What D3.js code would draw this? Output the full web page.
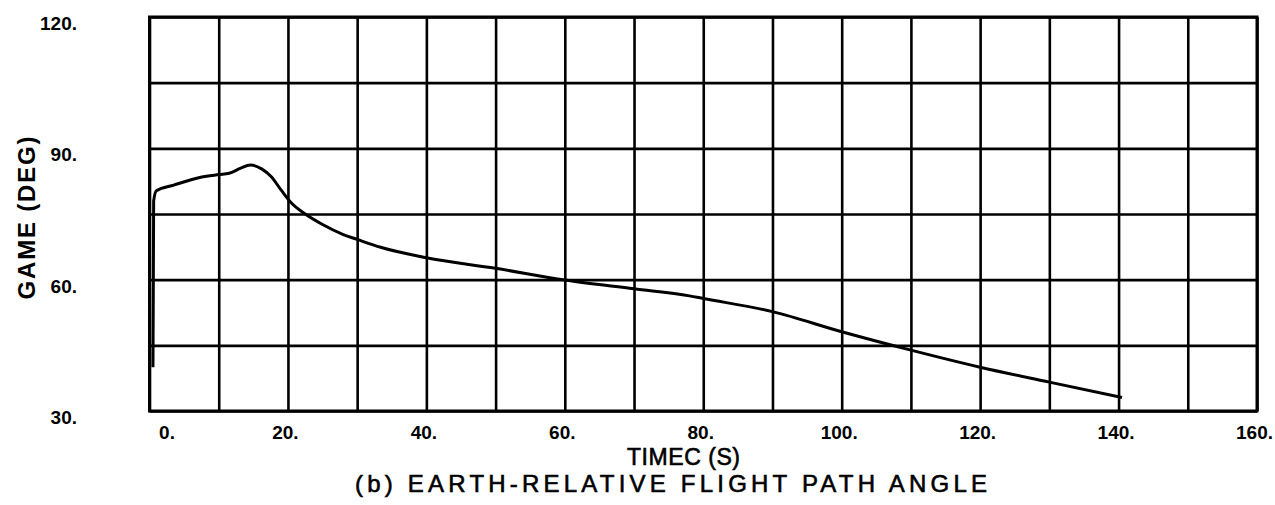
<!DOCTYPE html>
<html>
<head>
<meta charset="utf-8">
<script src="https://cdn.jsdelivr.net/npm/d3@7"></script>
<style>
  body { margin: 0; background: #fff; }
  svg { display: block; }
</style>
</head>
<body>
<svg id="chart" width="1275" height="505"></svg>
<script>
// datos
const timeS = [0.5, 0.6, 1.0, 3.5, 7.4, 10, 11.5, 13.1, 14.6, 16.2, 17.6, 19, 20.5, 22.5, 25, 28, 30, 33.4,
               40, 50, 60, 70, 78, 80, 90, 100, 110, 120, 130, 140.5];
const gammaDeg = [40, 78, 80.3, 81.6, 83.4, 84, 84.3, 85.4, 86.2, 85.3, 83.5, 80.5, 77.5, 75, 72.6, 70.3, 69.2, 67.4,
                  65, 62.6, 59.9, 57.9, 56.3, 55.7, 52.7, 48.1, 43.9, 40, 36.6, 33.1];

const xGridValues = [0, 10, 20, 30, 40, 50, 60, 70, 80, 90, 100, 110, 120, 130, 140, 150, 160];
const yGridValues = [30, 45, 60, 75, 90, 105, 120];
const xTickValues = [0, 20, 40, 60, 80, 100, 120, 140, 160];
const xTickLabels = ["0.", "20.", "40.", "60.", "80.", "100.", "120.", "140.", "160."];
const yTickValues = [30, 60, 90, 120];
const yTickLabels = ["30.", "60.", "90.", "120."];

const xTitle = "TIMEC (S)";
const yTitle = "GAME (DEG)";
const caption = "(b) EARTH-RELATIVE FLIGHT PATH ANGLE";

const svg = d3.select("#chart");
const plotLeft = 149.5, plotRight = 1257, plotTop = 17, plotBottom = 411;

const x = d3.scaleLinear().domain([0, 160]).range([plotLeft, plotRight]);
const y = d3.scaleLinear().domain([30, 120]).range([plotBottom, plotTop]);

// rejilla vertical
const gx = svg.append("g")
    .attr("transform", `translate(0,${plotBottom})`)
    .call(d3.axisBottom(x).tickValues(xGridValues).tickSize(-(plotBottom - plotTop)).tickFormat(""));
gx.select(".domain").remove();
gx.selectAll("line").attr("stroke", "#000").attr("stroke-width", 2.6);

// rejilla horizontal
const gy = svg.append("g")
    .attr("transform", `translate(${plotLeft},0)`)
    .call(d3.axisLeft(y).tickValues(yGridValues).tickSize(-(plotRight - plotLeft)).tickFormat(""));
gy.select(".domain").remove();
gy.selectAll("line").attr("stroke", "#000").attr("stroke-width", 2.6);

// marco
svg.append("rect")
    .attr("x", plotLeft).attr("y", plotTop)
    .attr("width", plotRight - plotLeft).attr("height", plotBottom - plotTop)
    .attr("fill", "none").attr("stroke", "#000").attr("stroke-width", 3);

// etiquetas eje x
const lx = svg.append("g")
    .attr("transform", `translate(0,${plotBottom})`)
    .call(d3.axisBottom(x).tickValues(xTickValues).tickSize(0)
        .tickFormat((d, i) => xTickLabels[i]));
lx.select(".domain").remove();
lx.selectAll("text")
    .attr("y", 0).attr("dy", 28)
    .attr("dx", d => d === 0 ? 17 : -3)
    .attr("fill", "#000")
    .style("font-family", "Liberation Sans, Arial, sans-serif")
    .style("font-weight", "bold")
    .style("font-size", "19px");

// etiquetas eje y
const ly = svg.append("g")
    .attr("transform", "translate(77,0)")
    .call(d3.axisLeft(y).tickValues(yTickValues).tickSize(0)
        .tickFormat((d, i) => yTickLabels[i]));
ly.select(".domain").remove();
ly.selectAll("text")
    .attr("x", 0).attr("dy", 12.5)
    .attr("fill", "#000")
    .style("font-family", "Liberation Sans, Arial, sans-serif")
    .style("font-weight", "bold")
    .style("font-size", "19px");

// curva
const line = d3.line()
    .x((d, i) => x(timeS[i]))
    .y(d => y(d))
    .curve(d3.curveMonotoneX);

svg.append("path")
    .datum(gammaDeg)
    .attr("d", line)
    .attr("fill", "none")
    .attr("stroke", "#000")
    .attr("stroke-width", 3)
    .attr("stroke-linejoin", "round");

// titulos
svg.append("text")
    .attr("transform", "translate(35,218) rotate(-90)")
    .attr("text-anchor", "middle")
    .attr("textLength", 163)
    .attr("lengthAdjust", "spacing")
    .style("font-family", "Liberation Sans, Arial, sans-serif")
    .style("font-weight", "bold")
    .style("font-size", "24px")
    .text(yTitle);

svg.append("text")
    .attr("x", 627).attr("y", 465)
    .attr("textLength", 113)
    .attr("lengthAdjust", "spacing")
    .attr("stroke", "#000").attr("stroke-width", 0.6)
    .style("font-family", "Liberation Sans, Arial, sans-serif")
    .style("font-size", "23px")
    .text(xTitle);

svg.append("text")
    .attr("x", 355).attr("y", 492)
    .attr("textLength", 632)
    .attr("lengthAdjust", "spacing")
    .attr("stroke", "#000").attr("stroke-width", 0.6)
    .style("font-family", "Liberation Sans, Arial, sans-serif")
    .style("font-size", "24px")
    .text(caption);
</script>
</body>
</html>
